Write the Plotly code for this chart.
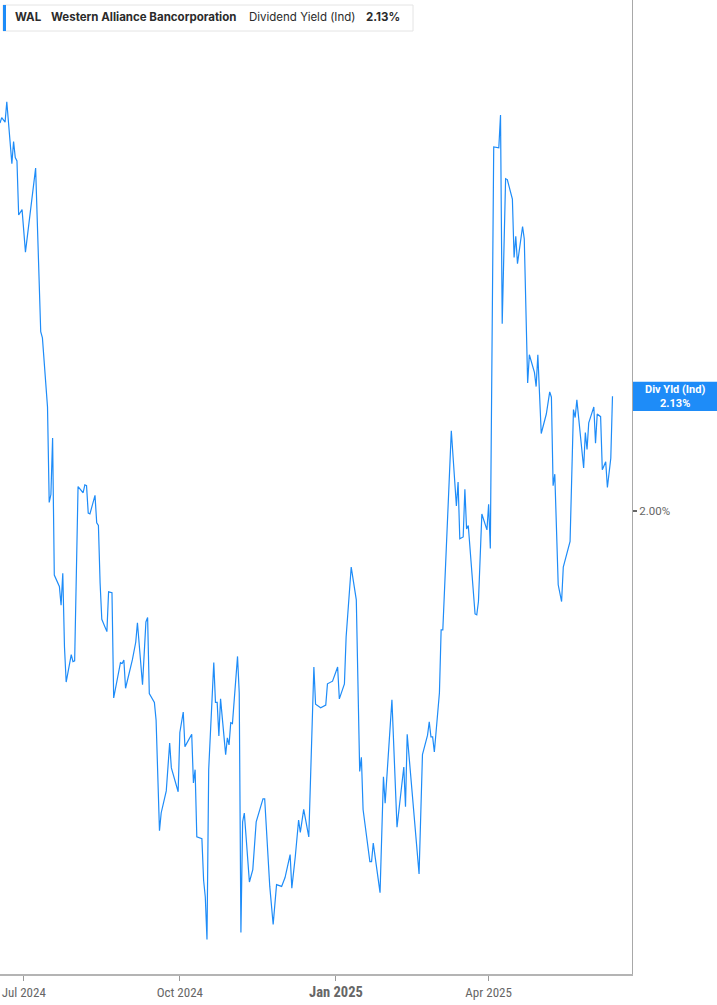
import plotly.graph_objects as go

# WAL dividend yield (Ind), %
dates = [
    "2024-06-17", "2024-06-18", "2024-06-20", "2024-06-21", "2024-06-24", "2024-06-25", "2024-06-26", "2024-06-27",
    "2024-06-28", "2024-06-30", "2024-07-02", "2024-07-08", "2024-07-11", "2024-07-12", "2024-07-15", "2024-07-16",
    "2024-07-17", "2024-07-18", "2024-07-19", "2024-07-22", "2024-07-23", "2024-07-24", "2024-07-25", "2024-07-26",
    "2024-07-29", "2024-07-30", "2024-07-31", "2024-08-02", "2024-08-05", "2024-08-06", "2024-08-07", "2024-08-08",
    "2024-08-09", "2024-08-12", "2024-08-13", "2024-08-14", "2024-08-15", "2024-08-16", "2024-08-19", "2024-08-20",
    "2024-08-22", "2024-08-23", "2024-08-27", "2024-08-28", "2024-08-29", "2024-08-30", "2024-09-03", "2024-09-05",
    "2024-09-06", "2024-09-09", "2024-09-11", "2024-09-12", "2024-09-13", "2024-09-16", "2024-09-17", "2024-09-19",
    "2024-09-20", "2024-09-23", "2024-09-25", "2024-09-26", "2024-09-30", "2024-10-01", "2024-10-03", "2024-10-04",
    "2024-10-08", "2024-10-09", "2024-10-10", "2024-10-11", "2024-10-14", "2024-10-15", "2024-10-16", "2024-10-17",
    "2024-10-18", "2024-10-19", "2024-10-21", "2024-10-22", "2024-10-23", "2024-10-24", "2024-10-25", "2024-10-28",
    "2024-10-29", "2024-10-30", "2024-10-31", "2024-11-01", "2024-11-04", "2024-11-05", "2024-11-06", "2024-11-07",
    "2024-11-08", "2024-11-11", "2024-11-13", "2024-11-15", "2024-11-19", "2024-11-20", "2024-11-23", "2024-11-25",
    "2024-11-27", "2024-11-30", "2024-12-02", "2024-12-05", "2024-12-06", "2024-12-08", "2024-12-10", "2024-12-11",
    "2024-12-13", "2024-12-16", "2024-12-19", "2024-12-20", "2024-12-23", "2024-12-26", "2024-12-27", "2024-12-30",
    "2025-01-02", "2025-01-03", "2025-01-06", "2025-01-07", "2025-01-10", "2025-01-13", "2025-01-15", "2025-01-16",
    "2025-01-17", "2025-01-21", "2025-01-22", "2025-01-23", "2025-01-27", "2025-01-29", "2025-01-30", "2025-02-03",
    "2025-02-06", "2025-02-10", "2025-02-11", "2025-02-12", "2025-02-19", "2025-02-21", "2025-02-24", "2025-02-25",
    "2025-02-26", "2025-02-27", "2025-02-28", "2025-03-03", "2025-03-04", "2025-03-05", "2025-03-07", "2025-03-10",
    "2025-03-13", "2025-03-14", "2025-03-15", "2025-03-17", "2025-03-18", "2025-03-19", "2025-03-20", "2025-03-24",
    "2025-03-25", "2025-03-26", "2025-03-28", "2025-03-31", "2025-04-01", "2025-04-02", "2025-04-04", "2025-04-07",
    "2025-04-08", "2025-04-09", "2025-04-11", "2025-04-12", "2025-04-15", "2025-04-16", "2025-04-17", "2025-04-18",
    "2025-04-21", "2025-04-22", "2025-04-24", "2025-04-25", "2025-04-28", "2025-04-29", "2025-04-30", "2025-05-02",
    "2025-05-05", "2025-05-07", "2025-05-08", "2025-05-09", "2025-05-10", "2025-05-12", "2025-05-14", "2025-05-15",
    "2025-05-19", "2025-05-21", "2025-05-22", "2025-05-23", "2025-05-27", "2025-05-28", "2025-05-29", "2025-05-30",
    "2025-06-02", "2025-06-03", "2025-06-04", "2025-06-06", "2025-06-07", "2025-06-09", "2025-06-10", "2025-06-12",
    "2025-06-13",
]

div_yield = [
    2.439, 2.445, 2.440, 2.463, 2.393, 2.418, 2.400, 2.396,
    2.335, 2.341, 2.293, 2.388, 2.203, 2.196, 2.118, 2.010,
    2.019, 2.083, 1.928, 1.915, 1.894, 1.930, 1.847, 1.807,
    1.838, 1.830, 1.831, 2.028, 2.021, 2.030, 2.029, 1.998,
    1.997, 2.018, 1.987, 1.984, 1.919, 1.878, 1.864, 1.909,
    1.908, 1.789, 1.829, 1.828, 1.832, 1.800, 1.832, 1.852,
    1.874, 1.804, 1.875, 1.880, 1.794, 1.784, 1.764, 1.639,
    1.659, 1.684, 1.738, 1.710, 1.683, 1.750, 1.773, 1.734,
    1.748, 1.693, 1.708, 1.632, 1.630, 1.583, 1.564, 1.516,
    1.708, 1.753, 1.829, 1.784, 1.784, 1.746, 1.788, 1.725,
    1.744, 1.736, 1.761, 1.760, 1.836, 1.795, 1.524, 1.649,
    1.659, 1.581, 1.595, 1.649, 1.675, 1.675, 1.576, 1.533,
    1.578, 1.576, 1.586, 1.612, 1.574, 1.609, 1.651, 1.637,
    1.663, 1.632, 1.824, 1.782, 1.778, 1.781, 1.805, 1.808,
    1.824, 1.788, 1.805, 1.858, 1.937, 1.900, 1.706, 1.722,
    1.663, 1.604, 1.604, 1.625, 1.569, 1.700, 1.670, 1.787,
    1.643, 1.711, 1.666, 1.748, 1.590, 1.725, 1.747, 1.762,
    1.745, 1.745, 1.728, 1.795, 1.866, 1.866, 1.949, 2.091,
    2.006, 2.033, 1.969, 1.971, 2.025, 1.980, 1.984, 1.884,
    1.883, 1.898, 1.997, 1.979, 2.008, 1.958, 2.412, 2.411,
    2.448, 2.212, 2.376, 2.375, 2.353, 2.287, 2.311, 2.280,
    2.322, 2.308, 2.145, 2.177, 2.157, 2.141, 2.177, 2.088,
    2.110, 2.135, 2.129, 2.029, 2.042, 1.917, 1.898, 1.937,
    1.966, 2.115, 2.106, 2.126, 2.049, 2.089, 2.070, 2.100,
    2.118, 2.077, 2.110, 2.107, 2.047, 2.056, 2.027, 2.060,
    2.130,
]
assert len(dates) == len(div_yield), (len(dates), len(div_yield))

ticker = "WAL"
company = "Western Alliance Bancorporation"
metric = "Dividend Yield (Ind)"
last_value = div_yield[-1]

x_tick_vals = ["2024-07-01", "2024-10-01", "2025-01-01", "2025-04-01"]
x_tick_text = ["Jul 2024", "Oct 2024",
               "<span style='font-size:14.5px'><b>Jan 2025</b></span>", "Apr 2025"]
y_tick_vals = [2.00]
y_tick_text = ["2.00%"]

LINE_BLUE = "#1e8cf8"
W, H = 717, 1005
PLOT_W, PLOT_H = 632, 974


def px_x(p):
    return p / PLOT_W


def px_y(p):
    return 1 - p / PLOT_H


fig = go.Figure()
fig.add_trace(go.Scatter(
    x=dates, y=div_yield, mode="lines",
    line=dict(color=LINE_BLUE, width=1.2),
    hoverinfo="skip", showlegend=False,
))

fig.update_layout(
    width=W, height=H,
    margin=dict(l=0, r=W - PLOT_W, t=0, b=H - PLOT_H),
    paper_bgcolor="white", plot_bgcolor="white",
    showlegend=False,
    font=dict(family="Inter, Roboto, sans-serif", color="#333"),
)

fig.update_xaxes(
    type="date", range=["2024-06-17", "2025-06-24 12:00"],
    showgrid=False, zeroline=False,
    showline=True, linecolor="#b4b4b4", linewidth=2,
    tickvals=x_tick_vals, ticktext=x_tick_text,
    ticks="outside", ticklen=5, tickwidth=1, tickcolor="#999",
    tickfont=dict(family="Liberation Sans Narrow, Roboto Condensed, Roboto, sans-serif", size=13, color="#666"),
)

fig.update_yaxes(
    range=[1.477, 2.578], side="right",
    showgrid=False, zeroline=False,
    showline=True, linecolor="#a8a8a8", linewidth=1,
    tickvals=y_tick_vals, ticktext=y_tick_text,
    ticks="outside", ticklen=4, tickwidth=2, tickcolor="#666",
    tickfont=dict(family="Roboto, sans-serif", size=11.5, color="#666"),
)

# legend box top-left
fig.add_shape(type="rect", xref="paper", yref="paper",
              x0=px_x(3), x1=px_x(413), y0=px_y(31), y1=px_y(5),
              fillcolor="white", line=dict(color="#e4e4e4", width=1), layer="above")
fig.add_shape(type="rect", xref="paper", yref="paper",
              x0=px_x(3), x1=px_x(6), y0=px_y(31), y1=px_y(5),
              fillcolor=LINE_BLUE, line=dict(width=0), layer="above")

legend_parts = [
    (13, f"<b>{ticker}</b>"),
    (49, f"<b>{company}</b>"),
    (247, metric),
    (364, f"<b>{last_value:.2f}%</b>"),
]
for xp, txt in legend_parts:
    fig.add_annotation(xref="paper", yref="paper", x=px_x(xp), y=px_y(17),
                       text=txt, showarrow=False, xanchor="left", yanchor="middle",
                       font=dict(family="Inter, Roboto, sans-serif", size=11.5, color="#2b2b2b"))

# current value flag on the right axis
fig.add_shape(type="rect", xref="paper", yref="y",
              x0=px_x(633), x1=px_x(W), y0=last_value - 0.0165, y1=last_value + 0.0165,
              fillcolor=LINE_BLUE, line=dict(width=0), layer="above")
fig.add_annotation(xref="paper", yref="y", x=px_x(675), y=last_value,
                   text=f"<b>Div Yld (Ind)<br>{last_value:.2f}%</b>",
                   showarrow=False, xanchor="center", yanchor="middle",
                   font=dict(family="Roboto, sans-serif", size=11, color="white"))

# page body has a default 8px margin; drop it so the chart sits at the window's corner
fig.write_html("out.html", config={"displayModeBar": False},
               post_script="document.body.style.margin='0px';")
